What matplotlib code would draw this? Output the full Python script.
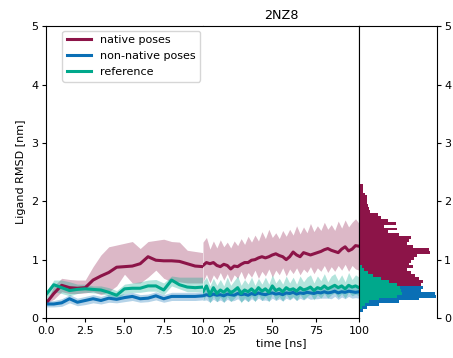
import numpy as np
import matplotlib
matplotlib.use("Agg")
import matplotlib.pyplot as plt

plt.rcParams['font.size'] = 8

# colours
c_nat = '#8c1448'
c_non = '#0a6fb5'
c_ref = '#00a88c'

# ---- first 10 ns (0.5 ns steps)
t1 = np.arange(0, 10.5, 0.5)
nat1 = [0.25, 0.42, 0.56, 0.52, 0.51, 0.52, 0.65, 0.72, 0.78, 0.87, 0.88,
        0.89, 0.93, 1.05, 0.99, 0.98, 0.98, 0.97, 0.93, 0.89, 0.88]
nat1_lo = [0.25, 0.32, 0.45, 0.42, 0.42, 0.43, 0.45, 0.40, 0.45, 0.55, 0.75,
           0.60, 0.60, 0.70, 0.82, 0.68, 0.62, 0.62, 0.60, 0.60, 0.60]
nat1_hi = [0.25, 0.55, 0.68, 0.66, 0.65, 0.65, 0.88, 1.08, 1.22, 1.25, 1.28,
           1.31, 1.19, 1.31, 1.33, 1.35, 1.31, 1.30, 1.16, 1.14, 1.12]
ref1 = [0.40, 0.57, 0.52, 0.47, 0.49, 0.50, 0.49, 0.48, 0.44, 0.39, 0.50,
        0.51, 0.51, 0.55, 0.55, 0.48, 0.65, 0.57, 0.53, 0.52, 0.53]
ref1_lo = [0.32, 0.45, 0.42, 0.38, 0.42, 0.44, 0.43, 0.42, 0.38, 0.33, 0.42,
           0.44, 0.44, 0.46, 0.46, 0.40, 0.55, 0.50, 0.45, 0.45, 0.45]
ref1_hi = [0.45, 0.65, 0.65, 0.62, 0.58, 0.58, 0.55, 0.55, 0.52, 0.47, 0.58,
           0.60, 0.62, 0.65, 0.66, 0.60, 0.72, 0.70, 0.70, 0.70, 0.70]
non1 = [0.24, 0.24, 0.26, 0.33, 0.27, 0.30, 0.33, 0.30, 0.34, 0.32, 0.35,
        0.37, 0.33, 0.34, 0.38, 0.33, 0.37, 0.37, 0.37, 0.37, 0.38]
non1_lo = [0.19, 0.19, 0.20, 0.26, 0.21, 0.23, 0.26, 0.24, 0.27, 0.26, 0.28,
           0.30, 0.27, 0.28, 0.31, 0.27, 0.30, 0.30, 0.30, 0.30, 0.31]
non1_hi = [0.29, 0.30, 0.33, 0.40, 0.34, 0.37, 0.40, 0.37, 0.41, 0.39, 0.42,
           0.44, 0.40, 0.41, 0.45, 0.40, 0.44, 0.44, 0.44, 0.44, 0.45]

# ---- 10-100 ns (2 ns steps)
t2 = np.arange(10, 102, 2)
nat2 = [0.90, 0.95, 0.93, 0.95, 0.90, 0.88, 0.92, 0.90, 0.84, 0.89, 0.88, 0.92,
        0.95, 0.95, 0.99, 1.00, 1.03, 1.05, 1.03, 1.05, 1.08, 1.10, 1.07, 1.05,
        1.00, 1.05, 1.13, 1.08, 1.05, 1.12, 1.10, 1.08, 1.10, 1.12, 1.14, 1.17,
        1.19, 1.16, 1.14, 1.12, 1.18, 1.22, 1.15, 1.18, 1.24, 1.23]
nat2_lo = [0.62, 0.75, 0.60, 0.74, 0.66, 0.78, 0.65, 0.76, 0.62, 0.74, 0.68, 0.80,
           0.66, 0.78, 0.70, 0.82, 0.68, 0.80, 0.72, 0.84, 0.70, 0.82, 0.74, 0.86,
           0.72, 0.84, 0.76, 0.86, 0.74, 0.84, 0.78, 0.88, 0.76, 0.86, 0.80, 0.90,
           0.78, 0.88, 0.80, 0.90, 0.82, 0.92, 0.80, 0.90, 0.84, 0.82]
nat2_hi = [1.30, 1.38, 1.18, 1.32, 1.20, 1.34, 1.22, 1.30, 1.20, 1.32, 1.24, 1.36,
           1.26, 1.40, 1.30, 1.42, 1.32, 1.48, 1.36, 1.52, 1.38, 1.46, 1.36, 1.50,
           1.40, 1.52, 1.42, 1.58, 1.44, 1.56, 1.46, 1.62, 1.48, 1.58, 1.50, 1.64,
           1.52, 1.60, 1.50, 1.66, 1.54, 1.68, 1.56, 1.64, 1.70, 1.62]
ref2 = [0.45, 0.55, 0.40, 0.52, 0.42, 0.48, 0.44, 0.50, 0.43, 0.47, 0.52, 0.42,
        0.48, 0.45, 0.50, 0.44, 0.52, 0.46, 0.50, 0.44, 0.55, 0.47, 0.50, 0.45,
        0.52, 0.48, 0.50, 0.46, 0.52, 0.48, 0.50, 0.53, 0.47, 0.52, 0.50, 0.55,
        0.50, 0.53, 0.56, 0.52, 0.55, 0.50, 0.56, 0.53, 0.55, 0.52]
ref2_lo = [0.30, 0.40, 0.26, 0.38, 0.28, 0.36, 0.27, 0.37, 0.28, 0.34, 0.40, 0.26,
           0.35, 0.28, 0.38, 0.28, 0.40, 0.30, 0.37, 0.28, 0.42, 0.31, 0.37, 0.29,
           0.40, 0.32, 0.37, 0.30, 0.40, 0.32, 0.37, 0.41, 0.31, 0.40, 0.34, 0.42,
           0.34, 0.40, 0.43, 0.35, 0.42, 0.34, 0.44, 0.38, 0.41, 0.38]
ref2_hi = [0.62, 0.70, 0.55, 0.68, 0.56, 0.66, 0.55, 0.70, 0.56, 0.64, 0.72, 0.56,
           0.66, 0.58, 0.70, 0.56, 0.68, 0.58, 0.70, 0.58, 0.74, 0.60, 0.68, 0.58,
           0.72, 0.60, 0.70, 0.58, 0.72, 0.62, 0.70, 0.74, 0.60, 0.72, 0.64, 0.76,
           0.62, 0.72, 0.76, 0.64, 0.74, 0.62, 0.78, 0.66, 0.74, 0.70]
non2 = [0.38, 0.40, 0.38, 0.41, 0.39, 0.40, 0.38, 0.41, 0.40, 0.39, 0.42, 0.40,
        0.41, 0.39, 0.42, 0.40, 0.43, 0.41, 0.40, 0.42, 0.43, 0.41, 0.42, 0.40,
        0.43, 0.42, 0.44, 0.41, 0.43, 0.42, 0.44, 0.43, 0.42, 0.44, 0.43, 0.45,
        0.43, 0.44, 0.46, 0.43, 0.45, 0.44, 0.46, 0.45, 0.44, 0.45]
non2_lo = [0.30, 0.31, 0.27, 0.32, 0.28, 0.31, 0.27, 0.32, 0.29, 0.30, 0.33, 0.28,
           0.32, 0.28, 0.33, 0.29, 0.34, 0.30, 0.31, 0.29, 0.34, 0.30, 0.33, 0.29,
           0.34, 0.31, 0.35, 0.30, 0.34, 0.31, 0.35, 0.32, 0.33, 0.33, 0.34, 0.34,
           0.34, 0.33, 0.37, 0.32, 0.36, 0.33, 0.37, 0.34, 0.35, 0.34]
non2_hi = [0.46, 0.49, 0.47, 0.50, 0.48, 0.49, 0.47, 0.50, 0.49, 0.48, 0.51, 0.49,
           0.50, 0.48, 0.51, 0.49, 0.52, 0.50, 0.49, 0.51, 0.52, 0.50, 0.51, 0.49,
           0.52, 0.51, 0.53, 0.50, 0.52, 0.51, 0.53, 0.52, 0.51, 0.53, 0.52, 0.54,
           0.52, 0.53, 0.55, 0.52, 0.54, 0.53, 0.55, 0.54, 0.53, 0.54]

# ---- RMSD distributions (bin edges in nm, counts in arbitrary units)
edges = np.arange(0.0, 2.35, 0.05)
nat_hist = [0, 0, 0, 0, 0, 0, 0, 20, 30, 40, 45, 62, 64, 60, 56, 52, 48, 54,
            50, 52, 55, 58, 71, 70, 54, 48, 50, 52, 40, 29, 38, 25, 37, 29, 22,
            19, 11, 10, 9, 8, 8, 8, 6, 4, 4, 4]
non_hist = [0, 0, 4, 8, 20, 40, 60, 77, 76, 62, 64, 30, 10, 0, 0, 0, 0, 0, 0,
            0, 0, 0, 0, 0, 0, 0, 0, 0, 0, 0, 0, 0, 0, 0, 0, 0, 0, 0, 0, 0, 0, 0,
            0, 0, 0, 0]
ref_hist = [0, 0, 1, 3, 6, 10, 20, 38, 43, 42, 41, 38, 30, 22, 14, 9, 5, 3, 0,
            0, 0, 0, 0, 0, 0, 0, 0, 0, 0, 0, 0, 0, 0, 0, 0, 0, 0, 0, 0, 0, 0, 0,
            0, 0, 0, 0]

fig = plt.figure(figsize=(4.53, 3.58), dpi=100)
bot, hgt = 0.1117, 0.8153
ax1 = fig.add_axes([0.1015, bot, 0.3466, hgt])
ax2 = fig.add_axes([0.4481, bot, 0.3444, hgt])
ax3 = fig.add_axes([0.7925, bot, 0.1722, hgt])

lw = 2.2
for ax, t, groups in [
        (ax1, t1, [(nat1, nat1_lo, nat1_hi, c_nat, 'native poses'),
                   (non1, non1_lo, non1_hi, c_non, 'non-native poses'),
                   (ref1, ref1_lo, ref1_hi, c_ref, 'reference')]),
        (ax2, t2, [(nat2, nat2_lo, nat2_hi, c_nat, 'native poses'),
                   (non2, non2_lo, non2_hi, c_non, 'non-native poses'),
                   (ref2, ref2_lo, ref2_hi, c_ref, 'reference')])]:
    for m, lo, hi, c, lab in groups:
        ax.fill_between(t, lo, hi, color=c, alpha=0.3, lw=0)
    for m, lo, hi, c, lab in groups:
        ax.plot(t, m, color=c, lw=lw, label=lab)
    ax.set_ylim(0, 5)
    ax.tick_params(length=3, pad=2.5)

ax1.set_xlim(0, 10)
ax1.set_xticks([0, 2.5, 5, 7.5, 10])
ax1.set_xticklabels(['0.0', '2.5', '5.0', '7.5', '10.0'])
ax1.spines['right'].set_visible(False)
ax1.set_ylabel('Ligand RMSD [nm]')
ax1.legend(loc='upper left', bbox_to_anchor=(0.105, 0.985), borderaxespad=0,
           handlelength=2.2, labelspacing=0.55)

ax2.set_xlim(10, 100)
ax2.set_xticks([25, 50, 75, 100])
ax2.spines['left'].set_visible(False)
ax2.set_yticks([])
ax2.set_xlabel('time [ns]', labelpad=2)
ax2.set_title('2NZ8', fontsize=9.2, pad=5)

ax3.stairs(nat_hist, edges, orientation='horizontal', fill=True, color=c_nat)
ax3.stairs(non_hist, edges, orientation='horizontal', fill=True, color=c_non)
ax3.stairs(ref_hist, edges, orientation='horizontal', fill=True, color=c_ref)
ax3.set_xlim(0, 78)
ax3.set_ylim(0, 5)
ax3.set_xticks([])
ax3.spines['bottom'].set_visible(False)
ax3.yaxis.tick_right()
ax3.tick_params(length=3, pad=2)

plt.savefig('out.png', dpi=100)
